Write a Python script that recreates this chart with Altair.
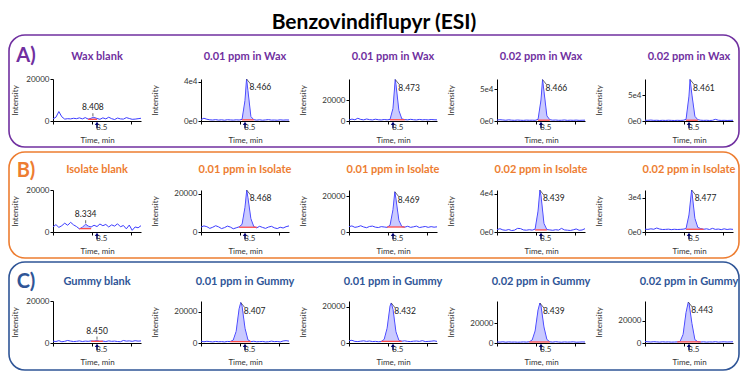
import altair as alt
import pandas as pd

FONT = "Lato"

TIMES = [8.00, 8.03, 8.06, 8.09, 8.12, 8.15, 8.18, 8.21, 8.24, 8.27, 8.30,
         8.33, 8.36, 8.39, 8.42, 8.45, 8.48, 8.51, 8.54, 8.57, 8.60, 8.63,
         8.66, 8.69, 8.72, 8.75, 8.78, 8.81, 8.84, 8.87, 8.90]
XTICKS = [8.0, 8.1, 8.2, 8.3, 8.4, 8.5, 8.6, 8.7, 8.8, 8.9]
XLABEL_T = 8.5
MARKER_T = 8.45

TITLES = ["Wax blank", "0.01 ppm in Wax", "0.01 ppm in Wax", "0.02 ppm in Wax", "0.02 ppm in Wax",
          "Isolate blank", "0.01 ppm in Isolate", "0.01 ppm in Isolate", "0.02 ppm in Isolate", "0.02 ppm in Isolate",
          "Gummy blank", "0.01 ppm in Gummy", "0.01 ppm in Gummy", "0.02 ppm in Gummy", "0.02 ppm in Gummy"]
IS_BLANK = [True, False, False, False, False] * 3

WAX_BLANK = [1000, 1800, 4500, 2000, 900, 1100, 1000, 1300, 1100, 1500, 1000, 1600, 900, 1300, 1700,
             1200, 800, 1500, 1000, 1800, 1100, 700, 1400, 1000, 900, 1600, 1200, 800, 900, 1100, 1300]
WAX_001_A = [1500, 2800, 1800, 1200, 1000, 1400, 900, 1200, 800, 1300, 1100, 900, 1200, 1000, 1600,
             21000, 31000, 4500, 1300, 900, 1200, 800, 1100, 1400, 900, 1000, 800, 1200, 900, 1100, 1000]
WAX_001_B = [1000, 1800, 1200, 2600, 1500, 1100, 1900, 1300, 1000, 1700, 1200, 1000, 1400, 1100, 1500,
             12000, 35000, 10000, 2000, 1300, 1100, 1600, 1200, 1000, 1500, 1100, 1300, 1000, 1400, 1200, 1100]
WAX_002_A = [1500, 2000, 1600, 1200, 1800, 1300, 1100, 1500, 1200, 1000, 1400, 1200, 1300, 1100, 2500,
             33000, 47000, 8000, 2000, 1300, 1500, 1100, 1200, 1600, 1000, 1300, 1100, 1400, 1000, 1200, 1300]
WAX_002_B = [1500, 1300, 1800, 1200, 1400, 1000, 1300, 1100, 1500, 1200, 1000, 1300, 1100, 1400, 3000,
             48000, 50000, 9000, 2500, 1500, 1200, 1400, 1000, 1300, 3200, 1500, 1100, 1300, 1000, 1200, 1400]
ISO_BLANK = [2500, 3500, 2200, 3000, 4200, 3200, 4600, 3400, 2600, 1500, 2200, 3600, 2800, 2400, 3200,
             2600, 3800, 3000, 3600, 2400, 3400, 2800, 3900, 2500, 3100, 1500, 3300, 800, 2400, 2000, 3000]
ISO_001_A = [2600, 3200, 2800, 1900, 2500, 3300, 2700, 1800, 2300, 3100, 2600, 1700, 2200, 2700, 4000,
             13000, 18000, 7000, 2800, 2200, 3000, 2400, 1900, 2600, 3000, 2200, 1800, 2500, 2100, 2800, 3200]
ISO_001_B = [3000, 3400, 2600, 2900, 3500, 2800, 2400, 3100, 3300, 2700, 2500, 3000, 2800, 2600, 3800,
             12500, 18500, 6500, 3000, 2700, 3200, 2600, 2900, 3300, 2500, 2800, 3100, 2600, 3000, 2700, 2900]
ISO_002_A = [2500, 3500, 2200, 1800, 2600, 1500, 2000, 3800, 3600, 2200, 1900, 2400, 2000, 3000, 22000,
             38000, 9000, 2500, 2200, 1800, 2400, 2000, 3800, 2200, 1900, 1600, 2300, 3200, 1800, 2100, 3500]
ISO_002_B = [2500, 2300, 2800, 2400, 3500, 2600, 2200, 2300, 2500, 2100, 2400, 2200, 2300, 2500, 3000,
             15000, 35000, 12000, 4000, 3000, 2400, 2800, 2200, 3200, 2300, 2600, 2100, 2800, 2200, 2600, 2300]
GUM_BLANK = [900, 700, 1100, 600, 800, 1200, 900, 700, 800, 1000, 700, 900, 800, 1000, 900,
             1100, 800, 900, 700, 1000, 800, 900, 700, 600, 1200, 900, 1000, 800, 1100, 900, 1000]
GUM_001_A = [1200, 800, 1100, 900, 700, 1000, 800, 900, 700, 1000, 900, 1900, 7500, 22000, 23600,
             9400, 2000, 900, 1100, 800, 900, 1000, 700, 800, 1200, 900, 1000, 700, 1300, 1500, 1200]
GUM_001_B = [1300, 1500, 900, 800, 1000, 1200, 900, 1100, 800, 900, 700, 800, 2000, 8200, 20500,
             18600, 6200, 1500, 1000, 1200, 900, 800, 1000, 1100, 900, 1300, 800, 900, 1000, 1200, 900]
GUM_002_A = [1000, 900, 1200, 800, 1100, 900, 1000, 800, 900, 1100, 900, 1200, 3000, 12000, 33000,
             37000, 16000, 3500, 1200, 900, 1300, 1000, 800, 1100, 900, 1000, 1200, 800, 900, 1100, 1000]
GUM_002_B = [1300, 1100, 900, 1200, 1000, 800, 1100, 900, 1000, 800, 900, 1000, 1500, 7800, 27700,
             36000, 17500, 3000, 1200, 900, 1100, 800, 1000, 900, 1200, 800, 1000, 1100, 900, 1000, 1100]

SERIES = [WAX_BLANK, WAX_001_A, WAX_001_B, WAX_002_A, WAX_002_B,
          ISO_BLANK, ISO_001_A, ISO_001_B, ISO_002_A, ISO_002_B,
          GUM_BLANK, GUM_001_A, GUM_001_B, GUM_002_A, GUM_002_B]

RT = [8.408, 8.466, 8.473, 8.466, 8.461,
      8.334, 8.468, 8.469, 8.439, 8.477,
      8.450, 8.407, 8.432, 8.439, 8.443]
APEX = [1800, 43000, 39500, 65000, 80000,
        3700, 22000, 22500, 44000, 37000,
        1150, 26000, 22200, 40000, 37000]
YMAX = [20000, 43000, 40000, 66000, 81000,
        20000, 22100, 23500, 44200, 37000,
        20000, 27000, 23300, 42000, 38000]
YTICKS = [[0, 10000, 20000], [0, 20000, 40000], [0, 20000], [0, 50000], [0, 50000],
          [0, 10000, 20000], [0, 10000, 20000], [0, 10000, 20000], [0, 20000, 40000], [0, 10000, 20000, 30000],
          [0, 10000, 20000], [0, 10000, 20000], [0, 10000, 20000], [0, 20000], [0, 20000]]
EXP_LABELS = [False, True, False, True, True,
              False, False, False, True, True,
              False, False, False, False, False]
PK_START = [8.36, 8.42, 8.42, 8.42, 8.42, 8.27, 8.39, 8.39, 8.39, 8.42, 8.39, 8.30, 8.33, 8.33, 8.33]
PK_END = [8.45, 8.54, 8.57, 8.54, 8.54, 8.39, 8.57, 8.57, 8.51, 8.60, 8.51, 8.51, 8.54, 8.54, 8.57]
BASE = [800, 1200, 1200, 1300, 1500, 1600, 2500, 2800, 2200, 2400, 800, 900, 900, 1000, 1000]

ROW_LETTERS = ["A)", "B)", "C)"]
ROW_COLORS = ["#7030A0", "#ED7D31", "#2F5597"]
# frame box of each row, pixels relative to the first panel's plot area
ROW_BOX = [(-44, 686, -44, 68), (-44, 686, -38, 68), (-44, 686, -39, 69)]
ROW_LETTER_POS = [(-27, -23), (-27, -19), (-27, -19)]
ROW_TITLE_Y = [-22, -20, -19]

W, H = 88, 42
LINE_COLOR = "#3c3cff"
ARROW = "M0,-1 L0.65,0 L0.22,0 L0.22,1 L-0.22,1 L-0.22,0 L-0.65,0 Z"


def panel(i):
    r, c = divmod(i, 5)
    pts = dict(zip(TIMES, SERIES[i]))
    pts[RT[i]] = APEX[i]
    df = pd.DataFrame(sorted(pts.items()), columns=["t", "v"])
    area_df = df[(df.t >= PK_START[i]) & (df.t <= PK_END[i])].copy()
    area_df["b"] = BASE[i]

    if EXP_LABELS[i]:
        lab_expr = "datum.value == 0 ? '0e0' : (datum.value / 10000) + 'e4'"
    else:
        lab_expr = "format(datum.value, 'd')"

    xs = alt.Scale(domain=[8.0, 8.9], nice=False, zero=False)
    ys = alt.Scale(domain=[0, YMAX[i]], nice=False)
    x_axis = alt.Axis(values=XTICKS, labels=False, title="Time, min",
                      titlePadding=12, tickSize=3)
    y_axis = alt.Axis(values=YTICKS[i], labelExpr=lab_expr, title="Intensity",
                      titleX=-38 if c == 0 else -46, titleY=H / 2,
                      titleBaseline="middle", titleAlign="center", titleAngle=270,
                      tickSize=3, labelPadding=1)
    xe = alt.X("t:Q", scale=xs, axis=x_axis)
    ye = alt.Y("v:Q", scale=ys, axis=y_axis)

    line = alt.Chart(df).mark_line(color=LINE_COLOR, strokeWidth=1).encode(x=xe, y=ye)
    area = alt.Chart(area_df).mark_area(color="#8a8aff", opacity=0.45).encode(
        x=xe, y=ye, y2="b:Q"
    )
    base_df = pd.DataFrame({"t0": [PK_START[i]], "t1": [PK_END[i]], "b": [BASE[i]]})
    baseline = alt.Chart(base_df).mark_rule(color="#ff4a4a", strokeWidth=1.3).encode(
        x="t0:Q", x2="t1:Q", y="b:Q"
    )
    marker = alt.Chart(pd.DataFrame({"t": [MARKER_T]})).mark_point(
        shape=ARROW, filled=True, size=45, color="#00007a", opacity=1
    ).encode(x="t:Q", y=alt.value(H + 4))
    xlabel = alt.Chart(pd.DataFrame({"t": [XLABEL_T], "s": ["8.5"]})).mark_text(
        align="center", baseline="top", fontSize=8, font=FONT, color="#333"
    ).encode(x="t:Q", y=alt.value(H + 3), text="s:N")

    lab_df = pd.DataFrame({"t": [RT[i]], "v": [APEX[i]], "lab": [f"{RT[i]:.3f}"]})
    if IS_BLANK[i]:
        label = alt.Chart(lab_df).mark_text(align="center", baseline="bottom", dy=-5,
                                            fontSize=8.5, font=FONT, color="#222").encode(
            x="t:Q", y="v:Q", text="lab:N")
        tick = alt.Chart(lab_df).mark_rule(color="#444", strokeWidth=0.8, yOffset=-1,
                                           y2Offset=-4).encode(
            x="t:Q", y="v:Q", y2="v:Q")
    else:
        label = alt.Chart(lab_df).mark_text(align="left", baseline="middle", dx=3, dy=8,
                                            fontSize=8.5, font=FONT, color="#222").encode(
            x="t:Q", y="v:Q", text="lab:N")
        tick = alt.Chart(lab_df).mark_rule(color="#444", strokeWidth=0.8, x2Offset=4,
                                           y2Offset=5).encode(
            x="t:Q", x2="t:Q", y="v:Q", y2="v:Q")

    one = pd.DataFrame({"k": [0]})
    title = alt.Chart(one).mark_text(text=TITLES[i], fontSize=11, fontWeight="bold", font=FONT,
                                     color=ROW_COLORS[r], align="center", baseline="middle").encode(
        x=alt.value(W / 2), y=alt.value(ROW_TITLE_Y[r]))

    layers = [line, area, baseline, marker, xlabel, tick, label, title]

    if c == 0:
        x0, x1, y0, y1 = ROW_BOX[r]
        box = alt.Chart(one).mark_rect(fillOpacity=0, stroke=ROW_COLORS[r], strokeWidth=1.6,
                                       cornerRadius=16).encode(
            x=alt.value(x0), x2=alt.value(x1), y=alt.value(y0), y2=alt.value(y1))
        lx, ly = ROW_LETTER_POS[r]
        letter = alt.Chart(one).mark_text(text=ROW_LETTERS[r], fontSize=20, fontWeight="bold",
                                          font=FONT, color=ROW_COLORS[r], align="center",
                                          baseline="middle").encode(
            x=alt.value(lx), y=alt.value(ly))
        layers = layers + [box, letter]

    return alt.layer(*layers).properties(width=W, height=H)


chart = alt.concat(
    *[panel(i) for i in range(15)], columns=5,
    spacing={"row": 69, "column": 60}, bounds="flush"
).properties(
    title=alt.TitleParams("Benzovindiflupyr (ESI)", fontSize=21, fontWeight="bold", font=FONT,
                          color="#000", anchor="middle", offset=1),
    padding={"left": 0, "right": 0, "top": 4, "bottom": 0},
).configure_view(stroke=None).configure_axis(
    grid=False, domainColor="#000", tickColor="#000", labelColor="#333", titleColor="#333",
    labelFont=FONT, titleFont=FONT, labelFontSize=8, titleFontSize=8, titleFontWeight="normal",
)

chart.save("out.html", embed_options={"renderer": "svg", "actions": False})
